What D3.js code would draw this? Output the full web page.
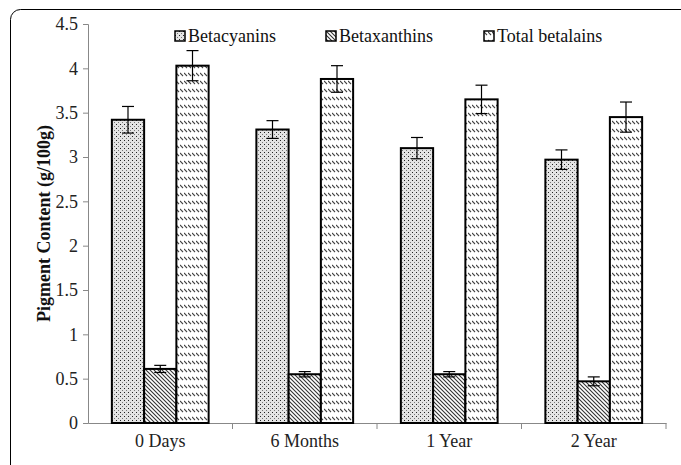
<!DOCTYPE html>
<html>
<head>
<meta charset="utf-8">
<script src="https://cdn.jsdelivr.net/npm/d3@7"></script>
<style>
  body { margin: 0; background: #fff; }
  text { font-family: "Liberation Serif", "Times New Roman", serif; }
</style>
</head>
<body>
<div id="chart"></div>
<script>
// Data
const periods = ["0 Days", "6 Months", "1 Year", "2 Year"];
const seriesNames = ["Betacyanins", "Betaxanthins", "Total betalains"];
const betacyanins = [3.42, 3.31, 3.10, 2.97];
const betacyaninsErr = [0.15, 0.10, 0.12, 0.11];
const betaxanthins = [0.61, 0.55, 0.55, 0.47];
const betaxanthinsErr = [0.04, 0.03, 0.03, 0.05];
const totalBetalains = [4.03, 3.88, 3.65, 3.45];
const totalErr = [0.17, 0.15, 0.16, 0.17];
const yTicks = [0, 0.5, 1, 1.5, 2, 2.5, 3, 3.5, 4, 4.5];

const W = 681, H = 465;
const margin = { top: 24, right: 15, bottom: 42, left: 88 };

const svg = d3.select("#chart").append("svg")
    .attr("width", W)
    .attr("height", H);

// patterns for the three fills
const defs = svg.append("defs");

const dots = defs.append("pattern")
    .attr("id", "pat0")
    .attr("patternUnits", "userSpaceOnUse")
    .attr("width", 4).attr("height", 4);
dots.append("rect").attr("width", 4).attr("height", 4).attr("fill", "#e4e4e4");
dots.append("rect").attr("x", 0).attr("y", 0).attr("width", 1).attr("height", 1).attr("fill", "#222");
dots.append("rect").attr("x", 2).attr("y", 2).attr("width", 1).attr("height", 1).attr("fill", "#777");

const hatch = defs.append("pattern")
    .attr("id", "pat1")
    .attr("patternUnits", "userSpaceOnUse")
    .attr("width", 4).attr("height", 4);
hatch.append("rect").attr("width", 4).attr("height", 4).attr("fill", "#fff");
hatch.append("path")
    .attr("d", "M-1,-1 L5,5 M-1,3 L1,5 M3,-1 L5,1")
    .attr("stroke", "#333").attr("stroke-width", 1.1);

const waves = defs.append("pattern")
    .attr("id", "pat2")
    .attr("patternUnits", "userSpaceOnUse")
    .attr("width", 4).attr("height", 8);
waves.append("rect").attr("width", 4).attr("height", 8).attr("fill", "#fff");
waves.append("path")
    .attr("d", "M0,1 L3,4")
    .attr("stroke", "#444").attr("stroke-width", 1.1);

// outer frame with rounded corner
svg.append("rect")
    .attr("x", 10.5).attr("y", 9.5)
    .attr("width", 700).attr("height", 500)
    .attr("rx", 10)
    .attr("fill", "none")
    .attr("stroke", "#000")
    .attr("stroke-width", 1);

const x0 = d3.scaleBand()
    .domain(periods)
    .range([margin.left, W - margin.right])
    .paddingInner(0)
    .paddingOuter(0);

const x1 = d3.scaleBand()
    .domain(seriesNames)
    .range([0, x0.bandwidth()])
    .paddingOuter(0.74)
    .paddingInner(0);

const y = d3.scaleLinear()
    .domain([0, 4.5])
    .range([H - margin.bottom, margin.top]);

// y axis
const yAxis = svg.append("g")
    .attr("transform", `translate(${margin.left},0)`)
    .call(d3.axisLeft(y).tickValues(yTicks).tickSize(5).tickFormat(d => d));
yAxis.select(".domain").attr("stroke", "#888");
yAxis.selectAll(".tick line").attr("stroke", "#888");
yAxis.selectAll("text")
    .attr("font-size", 18)
    .attr("fill", "#222")
    .attr("dx", -2);

// x axis
const xAxis = svg.append("g")
    .attr("transform", `translate(0,${y(0)})`)
    .call(d3.axisBottom(x0).tickSize(0).tickPadding(11));
xAxis.select(".domain").attr("stroke", "#888");
xAxis.selectAll("text").attr("font-size", 18).attr("fill", "#222");
// category separators
svg.append("g").selectAll("line")
    .data(periods)
    .join("line")
    .attr("x1", (d, i) => margin.left + (i + 1) * x0.step())
    .attr("x2", (d, i) => margin.left + (i + 1) * x0.step())
    .attr("y1", y(0))
    .attr("y2", y(0) + 6)
    .attr("stroke", "#888");

// y title
svg.append("text")
    .attr("transform", `translate(50,${y(2.25)}) rotate(-90)`)
    .attr("text-anchor", "middle")
    .attr("font-size", 18)
    .attr("font-weight", "bold")
    .attr("fill", "#111")
    .text("Pigment Content (g/100g)");

// bars
const series = [
    { name: seriesNames[0], values: betacyanins, errs: betacyaninsErr },
    { name: seriesNames[1], values: betaxanthins, errs: betaxanthinsErr },
    { name: seriesNames[2], values: totalBetalains, errs: totalErr }
];

const rows = [];
series.forEach((s, si) => {
    periods.forEach((p, pi) => {
        rows.push({ period: p, series: s.name, si: si, value: s.values[pi], err: s.errs[pi] });
    });
});

svg.append("g").selectAll("rect")
    .data(rows)
    .join("rect")
    .attr("x", d => x0(d.period) + x1(d.series))
    .attr("y", d => y(d.value))
    .attr("width", x1.bandwidth())
    .attr("height", d => y(0) - y(d.value))
    .attr("fill", d => `url(#pat${d.si})`)
    .attr("stroke", "#000")
    .attr("stroke-width", 2);

// error bars
const eb = svg.append("g").selectAll("g")
    .data(rows)
    .join("g")
    .attr("transform", d => `translate(${x0(d.period) + x1(d.series) + x1.bandwidth() / 2},0)`);
eb.append("line")
    .attr("y1", d => y(d.value + d.err))
    .attr("y2", d => y(d.value - d.err))
    .attr("stroke", "#000").attr("stroke-width", 1.2);
eb.append("line")
    .attr("x1", -6).attr("x2", 6)
    .attr("y1", d => y(d.value + d.err))
    .attr("y2", d => y(d.value + d.err))
    .attr("stroke", "#000").attr("stroke-width", 1.2);
eb.append("line")
    .attr("x1", -6).attr("x2", 6)
    .attr("y1", d => y(d.value - d.err))
    .attr("y2", d => y(d.value - d.err))
    .attr("stroke", "#000").attr("stroke-width", 1.2);

// legend
const legendX = [175, 326, 484];
const legend = svg.append("g").selectAll("g")
    .data(seriesNames)
    .join("g")
    .attr("transform", (d, i) => `translate(${legendX[i]},31)`);
legend.append("rect")
    .attr("width", 10).attr("height", 10)
    .attr("fill", (d, i) => `url(#pat${i})`)
    .attr("stroke", "#000").attr("stroke-width", 1.5);
legend.append("text")
    .attr("x", 13).attr("y", 11)
    .attr("font-size", 18)
    .attr("fill", "#111")
    .text(d => d);
</script>
</body>
</html>
